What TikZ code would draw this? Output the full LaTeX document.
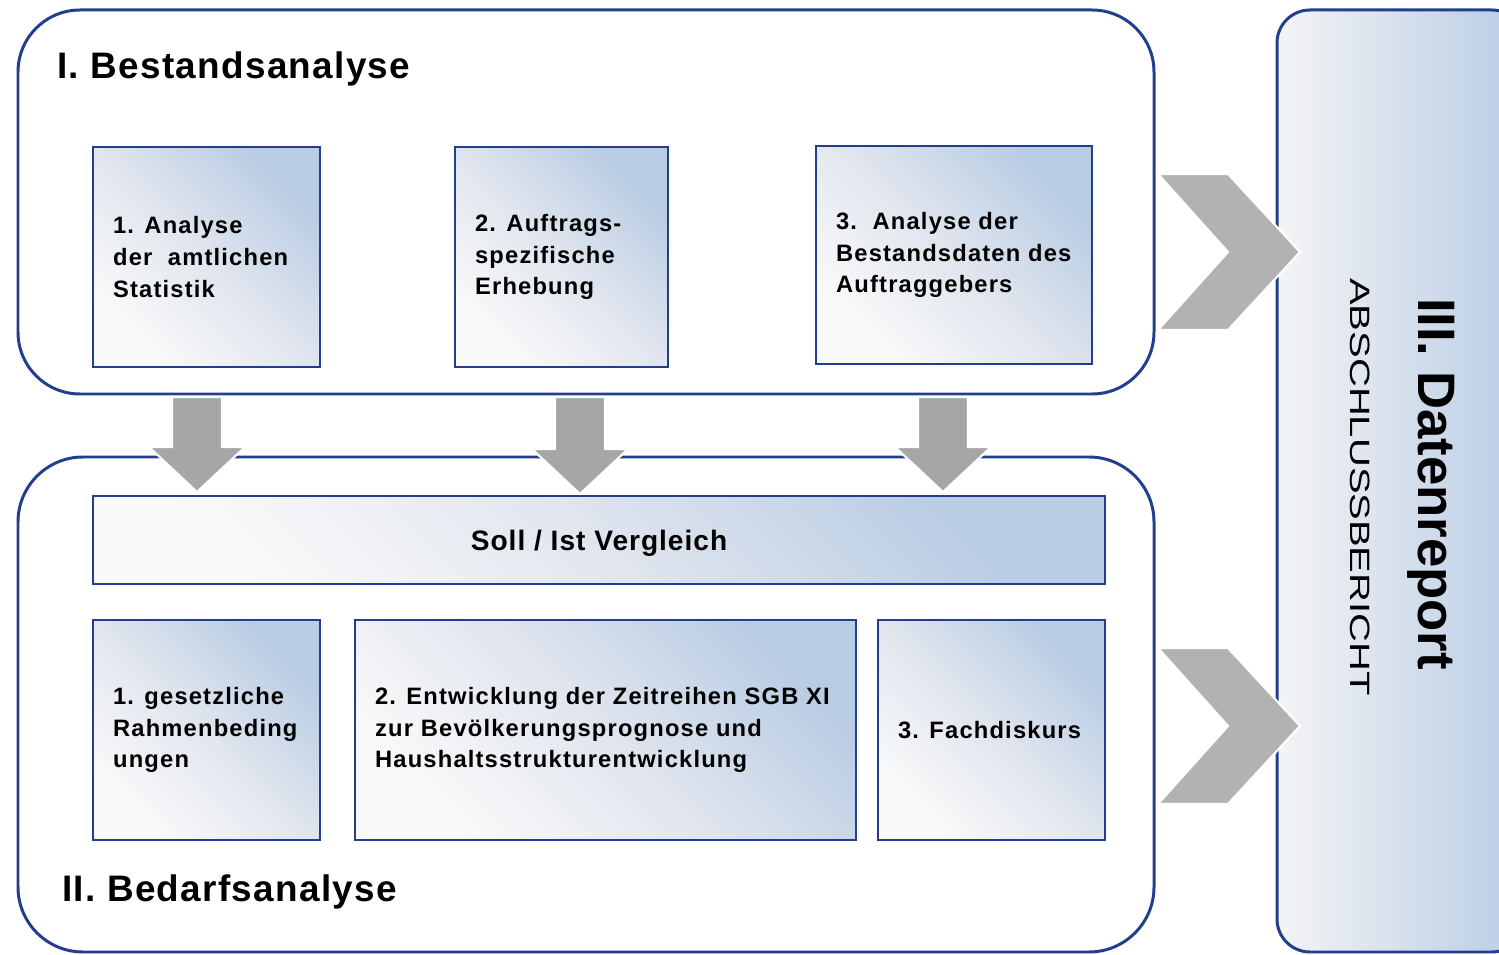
\documentclass[tikz,border=0pt]{standalone}
\usepackage{fontspec}
\setmainfont{Liberation Sans}
\newfontfamily\kastenfont[LetterSpace=5]{Liberation Sans}
\newfontfamily\titelfont[LetterSpace=3.5]{Liberation Sans}
\newfontfamily\breitfont[FakeStretch=1.43]{Liberation Sans}
\usetikzlibrary{positioning}

\definecolor{rahmenblau}{RGB}{35,62,140}
\definecolor{verlaufblau}{RGB}{184,204,228}
\definecolor{verlaufmitte}{RGB}{224,229,238}
\definecolor{verlaufgrau}{RGB}{250,250,250}
\definecolor{berichtgrau}{RGB}{244,244,245}
\definecolor{pfeilgrau}{RGB}{166,166,166}
\definecolor{winkelgrau}{RGB}{178,178,178}

\tikzset{
  rahmen/.style={draw=rahmenblau, line width=1.7pt},
  kasten/.style={draw=rahmenblau, line width=1.4pt, inner sep=0pt,
    top color=verlaufblau, bottom color=verlaufgrau,
    middle color=verlaufmitte, shading angle=-45},
  kastentext/.style={inner sep=0pt, align=left,
    font=\kastenfont\bfseries\fontsize{13.5}{18}\selectfont},
  titel/.style={inner sep=0pt, font=\titelfont\bfseries\fontsize{21}{25}\selectfont},
  pfeil/.style={fill=pfeilgrau, draw=white, line width=1.2pt},
  winkel/.style={fill=winkelgrau, draw=white, line width=1.2pt}
}

\begin{document}
\begin{tikzpicture}[x=0.02cm, y=-0.02cm]

  % Unita' di misura: un pixel
  \def\px{0.02cm}
  \useasboundingbox (0,0) rectangle (1499,955);

  % Riquadri principali
  \draw[rahmen, rounded corners=1.24cm] (18,10) rectangle (1154,394);
  \draw[rahmen, rounded corners=1.3cm] (18,457) rectangle (1154,952);
  \draw[rahmen, rounded corners=0.66cm, left color=berichtgrau,
    right color=verlaufblau] (1277,10) rectangle (1525,952);

  % Titoli delle fasi
  \node[titel, anchor=base west] (bestand) at (57,79) {I. Bestandsanalyse};
  \node[titel, anchor=base west] (bedarf) at (62,902) {II. Bedarfsanalyse};

  % Riquadri della prima fase
  \node[kasten, minimum width=227*\px, minimum height=220*\px] (a1) at (206.5,257) {};
  \node[kasten, minimum width=213*\px, minimum height=220*\px] (a2) at (561.5,257) {};
  \node[kasten, minimum width=276*\px, minimum height=218*\px] (a3) at (954,255) {};
  \node[kastentext, right=0.42cm of a1.west] (a1text) {1. Analyse\\der\ \ amtlichen\\Statistik};
  \node[kastentext, right=0.42cm of a2.west] (a2text) {2. Auftrags-\\spezifische\\Erhebung};
  \node[kastentext, right=0.42cm of a3.west] (a3text) {3.\ \ Analyse der\\Bestandsdaten des\\Auftraggebers};

  % Confronto
  \node[kasten, minimum width=1012*\px, minimum height=88*\px, text depth=0pt,
    font=\titelfont\bfseries\fontsize{16}{19}\selectfont] (soll) at (599,540) {Soll / Ist Vergleich};

  % Riquadri della seconda fase
  \node[kasten, minimum width=227*\px, minimum height=220*\px] (b1) at (206.5,730) {};
  \node[kasten, minimum width=501*\px, minimum height=220*\px] (b2) at (605.5,730) {};
  \node[kasten, minimum width=227*\px, minimum height=220*\px] (b3) at (991.5,730) {};
  \node[kastentext, right=0.42cm of b1.west] (b1text) {1. gesetzliche\\Rahmenbeding\\ungen};
  \node[kastentext, right=0.42cm of b2.west] (b2text) {2. Entwicklung der Zeitreihen SGB XI\\zur Bev\"olkerungsprognose und\\Haushaltsstrukturentwicklung};
  \node[kastentext, right=0.42cm of b3.west] (b3text) {3. Fachdiskurs};

  % Frecce verso il confronto
  \foreach \ax/\ay in {197/492, 580/494, 943/492}
    \filldraw[pfeil] ({\ax-25},397) -- ({\ax+25},397) -- ({\ax+25},{\ay-45})
      -- ({\ax+48},{\ay-45}) -- (\ax,\ay) -- ({\ax-48},{\ay-45})
      -- ({\ax-25},{\ay-45}) -- cycle;

  % Frecce verso il rapporto finale
  \foreach \cy in {252,726}
    \filldraw[winkel] (1158,{\cy-78}) -- (1228,{\cy-78}) -- (1300,\cy)
      -- (1228,{\cy+78}) -- (1158,{\cy+78}) -- (1228,\cy) -- cycle;

  % Testi del rapporto finale
  \node[rotate=-90, anchor=base, inner sep=0pt,
    font=\bfseries\fontsize{30}{36}\selectfont] (report) at (1418,484) {III. Datenreport};
  \node[rotate=-90, anchor=base, inner sep=0pt,
    font=\breitfont\fontsize{15.9}{19}\selectfont] (bericht) at (1350,487) {ABSCHLUSSBERICHT};

\end{tikzpicture}
\end{document}
